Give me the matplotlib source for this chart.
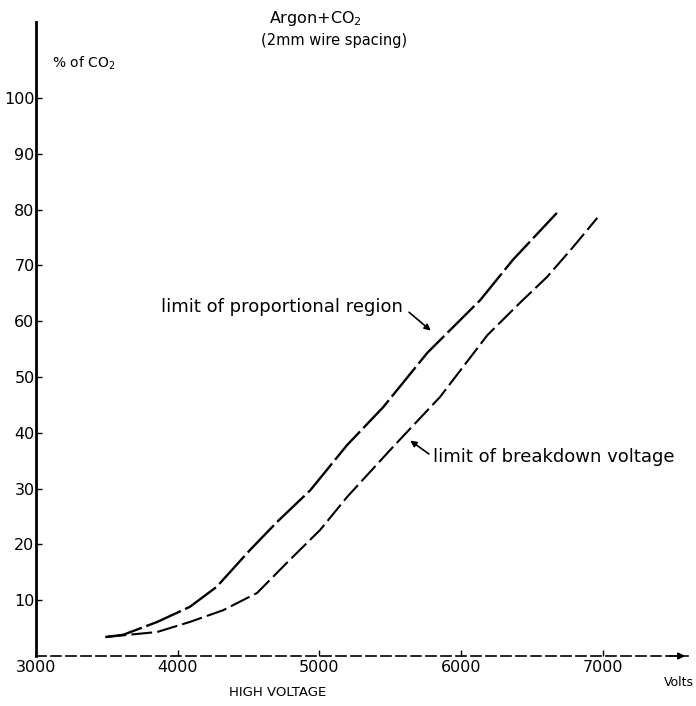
import numpy as np
import matplotlib.pyplot as plt

# Argon + CO2, 2 mm wire spacing
# limit of proportional region (volts, % CO2)
prop_v = [3490, 3615, 3855, 4085, 4275, 4510, 4700, 4935, 5195, 5450, 5760, 6135, 6365, 6675]
prop_pct = [3.4, 3.8, 6.1, 8.8, 12.4, 19.0, 24.0, 29.7, 37.8, 44.6, 54.3, 63.8, 71.0, 79.4]

# limit of breakdown voltage
brk_v = [3490, 3855, 4085, 4320, 4560, 4770, 5005, 5195, 5520, 5850, 6185, 6415, 6605, 6790, 6960]
brk_pct = [3.4, 4.3, 6.1, 8.2, 11.3, 16.7, 22.6, 28.5, 37.5, 46.4, 57.5, 63.3, 67.9, 73.3, 78.5]

x_ticks = [3000, 4000, 5000, 6000, 7000]
y_ticks = [10, 20, 30, 40, 50, 60, 70, 80, 90, 100]

plt.rcParams['font.family'] = ['DejaVu Sans']

fig = plt.figure(figsize=(6.96, 7.06), dpi=100)
ax = fig.add_axes([36/696, 1 - 656/706, (688 - 36)/696, (656 - 22)/706])

ax.plot(prop_v, prop_pct, color='black', lw=1.7, dashes=(16, 2), solid_capstyle='round')
ax.plot(brk_v, brk_pct, color='black', lw=1.5, dashes=(10, 2.5), solid_capstyle='round')

ax.set_xlim(3000, 7600)
ax.set_ylim(0, 113.6)

ax.spines['top'].set_visible(False)
ax.spines['right'].set_visible(False)
ax.spines['left'].set_linewidth(2.0)
ax.spines['bottom'].set_linewidth(1.2)
ax.spines['bottom'].set_linestyle((0, (6, 3)))

ax.set_xticks(x_ticks)
ax.set_xticklabels([str(v) for v in x_ticks])
ax.set_yticks(y_ticks)
ax.set_yticklabels([str(v) for v in y_ticks])
ax.tick_params(axis='both', direction='in', length=4, width=1, labelsize=11.5, color='black')
ax.tick_params(axis='y', pad=1)
ax.tick_params(axis='x', pad=3)

# axis arrow at right end
ax.annotate('', xy=(7600, 0), xytext=(7450, 0),
            arrowprops=dict(arrowstyle='-|>', color='black', lw=1.2, mutation_scale=10),
            annotation_clip=False)

fig.text(315/696, 1 - 18/706, 'Argon+CO$_2$', ha='center', va='center', fontsize=11.5)
fig.text(334/696, 1 - 40/706, '(2mm wire spacing)', ha='center', va='center', fontsize=10.5)
fig.text(52/696, 1 - 63/706, '% of CO$_2$', ha='left', va='center', fontsize=10)
fig.text(278/696, 1 - 693/706, 'HIGH VOLTAGE', ha='center', va='center', fontsize=9.5)
fig.text(694/696, 1 - 683/706, 'Volts', ha='right', va='center', fontsize=9)

ax.annotate('limit of proportional region', xy=(5785, 58.3), xytext=(5590, 62.5),
            ha='right', va='center', fontsize=13,
            arrowprops=dict(arrowstyle='-|>', color='black', lw=1.2, mutation_scale=9,
                            relpos=(1, 0.5), shrinkA=3, shrinkB=0))
ax.annotate('limit of breakdown voltage', xy=(5640, 38.6), xytext=(5800, 35.7),
            ha='left', va='center', fontsize=13,
            arrowprops=dict(arrowstyle='-|>', color='black', lw=1.2, mutation_scale=9,
                            relpos=(0, 0.5), shrinkA=1, shrinkB=0))

fig.savefig('out.png', dpi=100)
